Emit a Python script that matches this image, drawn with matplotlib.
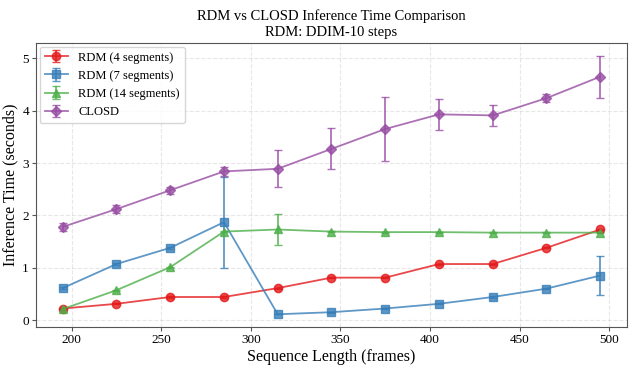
import matplotlib
matplotlib.use("Agg")
import matplotlib.pyplot as plt
import numpy as np

plt.rcParams['font.family'] = ['Liberation Serif', 'DejaVu Serif']

frames = [195, 225, 255, 285, 315, 345, 375, 405, 435, 465, 495]

rdm4 = [0.22, 0.31, 0.44, 0.44, 0.61, 0.81, 0.81, 1.07, 1.07, 1.38, 1.73]
rdm4_err = [0.01, 0.01, 0.01, 0.01, 0.01, 0.01, 0.01, 0.01, 0.01, 0.01, 0.01]

rdm7 = [0.61, 1.07, 1.38, 1.87, 0.11, 0.15, 0.22, 0.31, 0.44, 0.60, 0.85]
rdm7_err = [0.02, 0.02, 0.02, 0.87, 0.0, 0.01, 0.01, 0.01, 0.01, 0.01, 0.37]

rdm14 = [0.21, 0.57, 1.01, 1.69, 1.73, 1.69, 1.68, 1.68, 1.67, 1.67, 1.67]
rdm14_err = [0.01, 0.01, 0.01, 0.01, 0.30, 0.01, 0.01, 0.01, 0.01, 0.01, 0.01]

closd = [1.78, 2.12, 2.48, 2.84, 2.89, 3.27, 3.65, 3.93, 3.91, 4.24, 4.65]
closd_err = [0.08, 0.08, 0.07, 0.08, 0.35, 0.39, 0.62, 0.29, 0.20, 0.08, 0.40]

series = [
    ("RDM (4 segments)", rdm4, rdm4_err, "#e41a1c", "o"),
    ("RDM (7 segments)", rdm7, rdm7_err, "#377eb8", "s"),
    ("RDM (14 segments)", rdm14, rdm14_err, "#4daf4a", "^"),
    ("CLOSD", closd, closd_err, "#984ea3", "D"),
]

fig, ax = plt.subplots(figsize=(6.29, 3.66), dpi=100)
for label, vals, errs, color, marker in series:
    ax.errorbar(frames, vals, yerr=errs, label=label, color=color, marker=marker,
                markersize=6 if marker != "D" else 5, linewidth=1.3, capsize=3,
                elinewidth=1.3, alpha=0.8)

ax.set_xlabel("Sequence Length (frames)", fontsize=11.5, labelpad=2)
ax.set_ylabel("Inference Time (seconds)", fontsize=11.5, labelpad=3)
ax.set_title("RDM vs CLOSD Inference Time Comparison\nRDM: DDIM-10 steps", fontsize=10.5,
             linespacing=1.25, pad=5)
ax.grid(True, linestyle="--", alpha=0.3)
for s in ax.spines.values():
    s.set_color("#555555")
ax.tick_params(labelsize=9.5, length=3, color="#555555", pad=2)
ax.legend(loc="upper left", fontsize=9, borderaxespad=0.3, handlelength=1.9)
fig.subplots_adjust(left=0.057, right=0.997, top=0.883, bottom=0.106)
fig.savefig("out.png", dpi=100)
